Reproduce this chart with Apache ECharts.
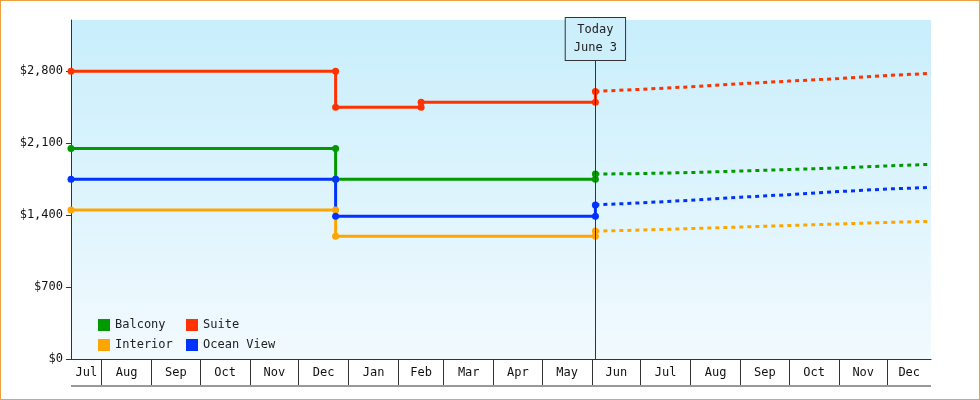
<!DOCTYPE html>
<html>
<head>
<meta charset="UTF-8">
<script src="https://cdn.jsdelivr.net/npm/echarts@6/dist/echarts.min.js"></script>
<style>
body { margin: 0; padding: 0; overflow: hidden; background: #fff; }
#echart { width: 978px; height: 398px; border: 1px solid #f0a040; }
</style>
</head>
<body>
<div id="echart"></div>
<script>
// day numbers counted from Jul 1
const monthNames = ['Jul','Aug','Sep','Oct','Nov','Dec','Jan','Feb','Mar','Apr','May','Jun','Jul','Aug','Sep','Oct','Nov','Dec'];
const monthStarts = [0,31,62,92,123,153,184,215,243,274,304,335,365,396,427,457,488,518,549];
const xMin = 12, xMax = 545, today = 337;

const balcony = [[12,2050],[176,2050],[176,1750],[337,1750],[337,1800]];
const suite = [[12,2800],[176,2800],[176,2450],[229,2450],[229,2500],[337,2500],[337,2605]];
const interior = [[12,1450],[176,1450],[176,1195],[337,1195],[337,1245]];
const oceanView = [[12,1750],[176,1750],[176,1390],[337,1390],[337,1500]];

const balconyFc = [[337,1800],[365,1805],[396,1815],[427,1830],[457,1845],[488,1860],[518,1880],[545,1895]];
const suiteFc = [[337,2605],[365,2625],[396,2650],[427,2680],[457,2705],[488,2730],[518,2760],[545,2780]];
const interiorFc = [[337,1245],[365,1255],[396,1270],[427,1285],[457,1300],[488,1315],[518,1330],[545,1340]];
const oceanViewFc = [[337,1500],[365,1520],[396,1545],[427,1575],[457,1600],[488,1630],[518,1655],[545,1670]];

const colors = { Balcony: '#009900', Suite: '#ff3300', Interior: '#ffa500', 'Ocean View': '#0033ff' };
const font = 'DejaVu Sans Mono';

const labelPos = monthStarts.slice(0, -1).map((s, i) => (Math.max(s, xMin) + Math.min(monthStarts[i + 1], xMax)) / 2);

function stepSeries(name, data) {
    return {
        name: name, type: 'line', data: data, color: colors[name],
        symbol: 'circle', symbolSize: 7, lineStyle: { width: 3 }, animation: false
    };
}
function fcSeries(name, data, extra) {
    return Object.assign({
        name: name + ' fc', type: 'line', data: data, color: colors[name],
        symbol: 'none', lineStyle: { width: 3, type: [4, 4] }, animation: false
    }, extra || {});
}

const ec = echarts.init(document.getElementById('echart'));
ec.setOption({
    textStyle: { fontFamily: font },
    grid: {
        left: 70, right: 48, top: 19, bottom: 40, show: true, borderWidth: 0,
        backgroundColor: new echarts.graphic.LinearGradient(0, 0, 0, 1, [
            { offset: 0, color: '#c8eefc' }, { offset: 1, color: '#f2fafe' }
        ])
    },
    legend: [
        { data: ['Balcony', 'Interior'], orient: 'vertical', left: 92, top: 313, itemWidth: 12, itemHeight: 12, itemGap: 8, icon: 'rect', textStyle: { fontFamily: font, fontSize: 12, color: '#222' } },
        { data: ['Suite', 'Ocean View'], orient: 'vertical', left: 180, top: 313, itemWidth: 12, itemHeight: 12, itemGap: 8, icon: 'rect', textStyle: { fontFamily: font, fontSize: 12, color: '#222' } }
    ],
    xAxis: {
        type: 'value', min: xMin, max: xMax,
        axisLine: { lineStyle: { color: '#333' } },
        axisTick: { customValues: monthStarts.slice(1, -1), length: 26, lineStyle: { color: '#333' } },
        axisLabel: {
            customValues: labelPos, margin: 8, color: '#111', fontSize: 12, fontFamily: font,
            formatter: v => monthNames[labelPos.indexOf(v)]
        },
        splitLine: { show: false }
    },
    yAxis: {
        type: 'value', min: 0, max: 3300, interval: 700,
        axisLine: { show: true, lineStyle: { color: '#333' } },
        axisTick: { show: true, length: 5, lineStyle: { color: '#333' } },
        axisLabel: { color: '#111', fontSize: 12, fontFamily: font, showMaxLabel: false,
            formatter: v => '$' + v.toLocaleString('en-US') },
        splitLine: { show: false }
    },
    graphic: [
        { type: 'line', shape: { x1: 70, y1: 385, x2: 930, y2: 385 }, style: { stroke: '#333', lineWidth: 1 } }
    ],
    series: [
        stepSeries('Balcony', balcony),
        stepSeries('Suite', suite),
        stepSeries('Interior', interior),
        stepSeries('Ocean View', oceanView),
        fcSeries('Balcony', balconyFc),
        fcSeries('Suite', suiteFc, {
            markLine: {
                silent: true, symbol: 'none', animation: false,
                lineStyle: { color: '#333', width: 1, type: 'solid' },
                data: [{ xAxis: today }],
                label: {
                    show: true, position: 'end', distance: -40, formatter: 'Today\nJune 3',
                    backgroundColor: '#cdeffc', borderColor: '#333', borderWidth: 1,
                    padding: [3, 8], lineHeight: 18, fontFamily: font, fontSize: 12, color: '#222'
                }
            }
        }),
        fcSeries('Interior', interiorFc),
        fcSeries('Ocean View', oceanViewFc)
    ]
});
</script>
</body>
</html>
